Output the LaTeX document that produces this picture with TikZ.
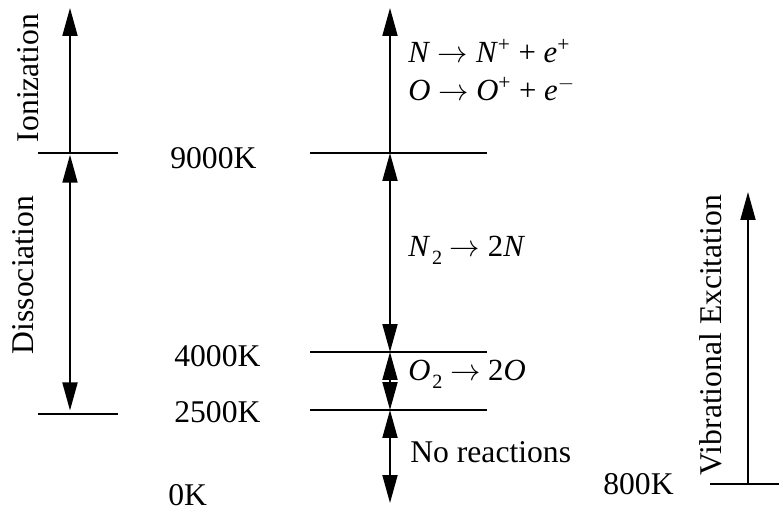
\documentclass[tikz,border=0pt]{standalone}
\usepackage{fontspec}
\setmainfont{Liberation Serif}
\usepackage{tikz}
\usetikzlibrary{arrows.meta}

\newcommand{\chem}[1]{\textit{#1}}
\newcommand{\lowtwo}{\kern1pt\raisebox{-0.16cm}{\fontsize{11.5}{12}\selectfont 2}}

\begin{document}
\begin{tikzpicture}[
  x=0.02cm, y=-0.02cm,
  level/.style={line width=1.1pt},
  arr/.style={line width=1.1pt, -{Triangle[length=0.56cm, width=0.3cm]}},
  darr/.style={line width=1.1pt, {Triangle[length=0.56cm, width=0.3cm]}-{Triangle[length=0.56cm, width=0.3cm]}},
  temp/.style={anchor=base west, inner sep=0pt, font=\fontsize{18}{21}\selectfont},
  react/.style={anchor=base west, inner sep=0pt, font=\fontsize{17.5}{20}\selectfont},
  regime/.style={anchor=base, rotate=90, inner sep=0pt, font=\fontsize{18}{21}\selectfont}
]
\useasboundingbox (0,0) rectangle (779,510);

% left column
\coordinate (Ltop) at (70,8);
\coordinate (L9)   at (70,153);
\coordinate (L25)  at (70,414);
\draw[level] (38,153) coordinate (L9a) -- (118,153) coordinate (L9b);
\draw[level] (38,414) coordinate (L25a) -- (118,414) coordinate (L25b);
\draw[arr] (L9) -- (Ltop);
\draw[darr, shorten <=1pt, shorten >=2pt] (L9) -- (L25);
\node[regime] (ion) at (38,78) {Ionization};
\node[regime] (dis) at (33,275) {Dissociation};

% temperatures
\node[temp] (t9000) at (170,169) {9000K};
\node[temp] (t4000) at (174,367) {4000K};
\node[temp] (t2500) at (174,423) {2500K};
\node[temp] (t0)    at (168,505) {0K};

% middle column
\coordinate (Mtop) at (390,8);
\coordinate (M9)   at (390,153);
\coordinate (M4)   at (390,352);
\coordinate (M25)  at (390,410);
\coordinate (M0)   at (390,503);
\draw[level] (310,153) coordinate (M9a) -- (487,153) coordinate (M9b);
\draw[level] (310,352) coordinate (M4a) -- (487,352) coordinate (M4b);
\draw[level] (310,410) coordinate (M25a) -- (487,410) coordinate (M25b);
\draw[arr] (M9) -- (Mtop);
\draw[darr] (M9) -- (M4);
\draw[darr] (M4) -- (M25);
\draw[darr] (M25) -- (M0);

\node[react] (rN)  at (408,63)  {\chem{N} $\rightarrow$ \chem{N}\textsuperscript{+} + \chem{e}\textsuperscript{+}};
\node[react] (rO)  at (408,101) {\chem{O} $\rightarrow$ \chem{O}\textsuperscript{+} + \chem{e}\textsuperscript{$-$}};
\node[react] (rN2) at (408,257) {\chem{N}\lowtwo{} $\rightarrow$ 2\chem{N}};
\node[react] (rO2) at (408,381) {\chem{O}\lowtwo{} $\rightarrow$ 2\chem{O}};
\node[temp]  (none) at (410,462) {No reactions};

% right column
\coordinate (Vtop) at (748,192);
\coordinate (V8)   at (748,484);
\draw[level] (710,484) coordinate (V8a) -- (779,484) coordinate (V8b);
\draw[arr] (V8) -- (Vtop);
\node[temp] (t800) at (603,495) {800K};
\node[regime] (vib) at (721,335) {Vibrational Excitation};

\end{tikzpicture}
\end{document}
